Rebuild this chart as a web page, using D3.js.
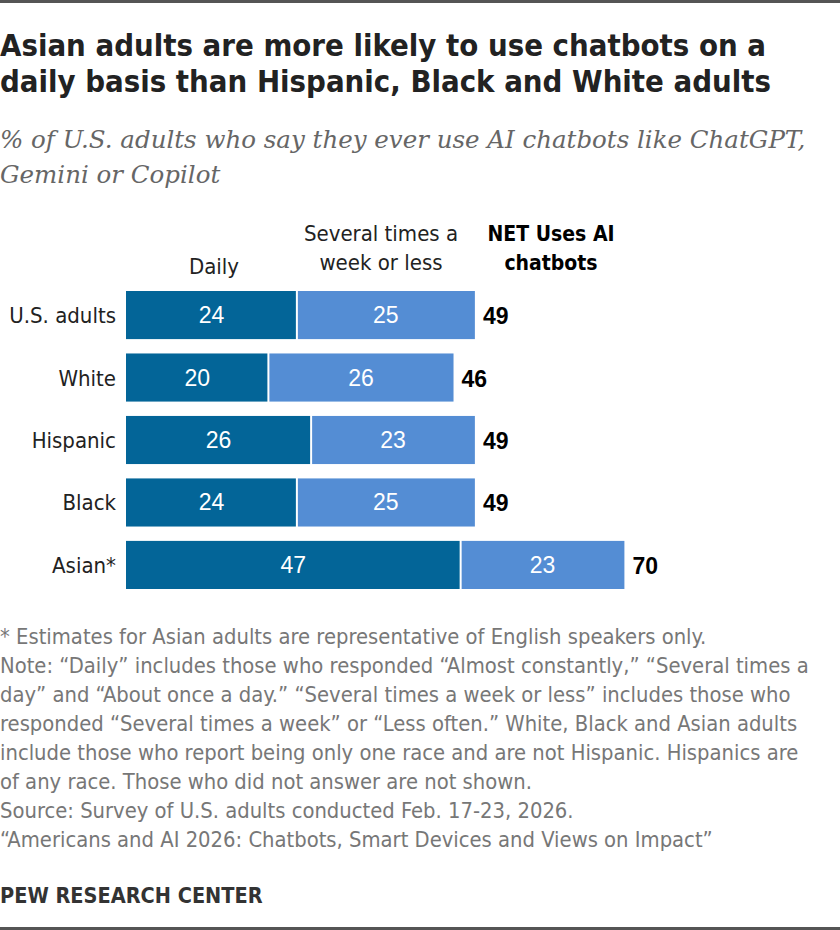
<!DOCTYPE html>
<html>
<head>
<meta charset="utf-8">
<script src="https://cdn.jsdelivr.net/npm/d3@7"></script>
<style>
  html, body { margin: 0; padding: 0; background: #fff; }
  svg { display: block; }
  .cond { font-family: "DejaVu Sans Condensed", "Liberation Sans Narrow", "Roboto", sans-serif; }
</style>
</head>
<body>
<svg id="chart" width="840" height="930"></svg>
<script>
// data
const groups = ['U.S. adults', 'White', 'Hispanic', 'Black', 'Asian*']
const daily = [24, 20, 26, 24, 47]
const weekly = [25, 26, 23, 25, 23]
const net = [49, 46, 49, 49, 70]

const titleLines = [
  'Asian adults are more likely to use chatbots on a',
  'daily basis than Hispanic, Black and White adults'
]
const subtitleLines = [
  '% of U.S. adults who say they ever use AI chatbots like ChatGPT,',
  'Gemini or Copilot'
]
const noteLines = [
  '* Estimates for Asian adults are representative of English speakers only.',
  'Note: \u201cDaily\u201d includes those who responded \u201cAlmost constantly,\u201d \u201cSeveral times a',
  'day\u201d and \u201cAbout once a day.\u201d \u201cSeveral times a week or less\u201d includes those who',
  'responded \u201cSeveral times a week\u201d or \u201cLess often.\u201d White, Black and Asian adults',
  'include those who report being only one race and are not Hispanic. Hispanics are',
  'of any race. Those who did not answer are not shown.',
  'Source: Survey of U.S. adults conducted Feb. 17-23, 2026.',
  '\u201cAmericans and AI 2026: Chatbots, Smart Devices and Views on Impact\u201d'
]

const svg = d3.select('#chart')
const W = 840
const cDaily = '#036598'
const cWeek = '#548dd4'

// frame rules top and bottom
svg.append('rect').attr('x', 0).attr('y', 0).attr('width', W).attr('height', 3).attr('fill', '#555')
svg.append('rect').attr('x', 0).attr('y', 927).attr('width', W).attr('height', 3).attr('fill', '#555')

// title
svg.append('g').selectAll('text')
  .data(titleLines)
  .join('text')
  .attr('class', 'cond')
  .attr('x', 0)
  .attr('y', (d, i) => 56 + i * 36)
  .attr('font-size', 30.8)
  .attr('font-weight', 'bold')
  .attr('fill', '#222')
  .text(d => d)

svg.append('g').selectAll('text')
  .data(subtitleLines)
  .join('text')
  .attr('x', 0)
  .attr('y', (d, i) => 148 + i * 35)
  .attr('font-family', '"DejaVu Serif", serif')
  .attr('font-style', 'italic')
  .attr('font-size', 24.5)
  .attr('fill', '#666')
  .text(d => d)

// scales
const x = d3.scaleLinear().domain([0, 100]).range([126, 126 + 712])
const y = d3.scaleBand().domain(groups).range([291, 589]).paddingInner(0.23).paddingOuter(0)

const rows = svg.append('g').selectAll('g')
  .data(groups)
  .join('g')
  .attr('transform', d => `translate(0,${y(d)})`)

const bh = y.bandwidth()

rows.append('rect')
  .attr('x', x(0))
  .attr('width', (d, i) => x(daily[i]) - x(0) - 1)
  .attr('height', bh)
  .attr('fill', cDaily)

rows.append('rect')
  .attr('x', (d, i) => x(daily[i]) + 1)
  .attr('width', (d, i) => x(daily[i] + weekly[i]) - x(daily[i]) - 1)
  .attr('height', bh)
  .attr('fill', cWeek)

rows.append('text')
  .attr('x', (d, i) => (x(0) + x(daily[i])) / 2)
  .attr('y', bh / 2 + 8)
  .attr('text-anchor', 'middle')
  .attr('font-family', '"Liberation Sans", Arial, sans-serif')
  .attr('font-size', 23)
  .attr('fill', '#fff')
  .text((d, i) => daily[i])

rows.append('text')
  .attr('x', (d, i) => (x(daily[i]) + x(daily[i] + weekly[i])) / 2)
  .attr('y', bh / 2 + 8)
  .attr('text-anchor', 'middle')
  .attr('font-family', '"Liberation Sans", Arial, sans-serif')
  .attr('font-size', 23)
  .attr('fill', '#fff')
  .text((d, i) => weekly[i])

rows.append('text')
  .attr('x', (d, i) => x(net[i]) + 8)
  .attr('y', bh / 2 + 9)
  .attr('font-family', '"Liberation Sans", Arial, sans-serif')
  .attr('font-weight', 'bold')
  .attr('font-size', 23)
  .attr('fill', '#000')
  .text((d, i) => net[i])

rows.append('text')
  .attr('class', 'cond')
  .attr('x', 116)
  .attr('y', bh / 2 + 8)
  .attr('text-anchor', 'end')
  .attr('font-size', 22)
  .attr('fill', '#222')
  .text(d => d)

// column headers
const head = svg.append('g').attr('class', 'cond').attr('font-size', 22).attr('text-anchor', 'middle')
head.append('text').attr('x', 214).attr('y', 274).attr('fill', '#222').text('Daily')
head.append('text').attr('x', 381).attr('y', 241).attr('fill', '#222').text('Several times a')
head.append('text').attr('x', 381).attr('y', 270).attr('fill', '#222').text('week or less')
head.append('text').attr('x', 551).attr('y', 241).attr('font-size', 21).attr('font-weight', 'bold').attr('fill', '#000').text('NET Uses AI')
head.append('text').attr('x', 551).attr('y', 270).attr('font-size', 21).attr('font-weight', 'bold').attr('fill', '#000').text('chatbots')

// notes
svg.append('g').selectAll('text')
  .data(noteLines)
  .join('text')
  .attr('class', 'cond')
  .attr('x', 0)
  .attr('y', (d, i) => 644 + i * 29)
  .attr('font-size', 21.8)
  .attr('fill', '#777')
  .text(d => d)

svg.append('text')
  .attr('class', 'cond')
  .attr('x', 0)
  .attr('y', 903)
  .attr('font-size', 21.5)
  .attr('font-weight', 'bold')
  .attr('fill', '#333')
  .text('PEW RESEARCH CENTER')
</script>
</body>
</html>
